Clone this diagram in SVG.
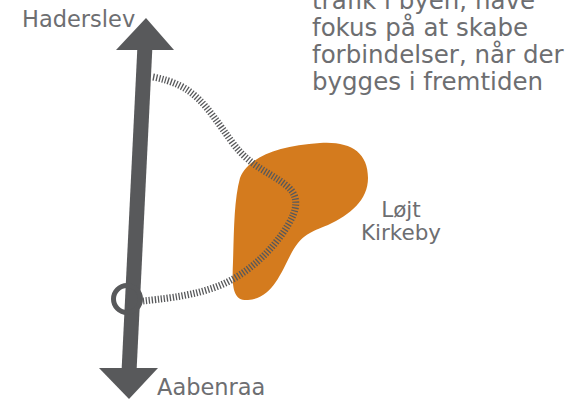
<svg xmlns="http://www.w3.org/2000/svg" width="578" height="399" viewBox="0 0 578 399">
<style>
.lbl{font-family:"DejaVu Sans",Verdana,sans-serif;fill:#6d6e71}
.road{fill:#58595b}
.rail{fill:none;stroke:#58595b;stroke-width:7;stroke-dasharray:1.3 1.7}
</style>
<rect width="578" height="399" fill="#ffffff"/>
<g id="area-lojt-kirkeby">
<path d="M240,178 C248,158 275,146 320,143 C350,141 368,152 368,178 C368,200 350,215 328,225 C310,232 302,235 292,252 C280,275 272,298 248,300 C232,301 232,285 233,262 C234,230 234,200 240,178 Z" fill="#d47b1e"/>
</g>
<g id="connectors">
<path class="rail" d="M153,77 C195,85 205,105 232,142 C250,167 270,172 287,186 C300,197 297,210 288,225 C270,255 240,280 210,289 C185,297 160,299 143,301"/>
<line x1="145" y1="45" x2="129" y2="372" stroke="#58595b" stroke-width="15"/>
<polygon class="road" points="146,18 174,50 116,50"/>
<polygon class="road" points="129,399 158,368 99,368"/>
<circle cx="127" cy="299" r="13.5" fill="none" stroke="#58595b" stroke-width="5"/>
</g>
<g id="label-haderslev"><text class="lbl" x="22" y="27" font-size="22.5">Haderslev</text></g>
<g id="label-aabenraa"><text class="lbl" x="157" y="395" font-size="22.5">Aabenraa</text></g>
<g id="label-lojt"><text class="lbl" x="401" y="216.5" font-size="21.5" text-anchor="middle">Løjt</text><text class="lbl" x="401" y="240" font-size="21.5" text-anchor="middle">Kirkeby</text></g>
<g id="note">
<text class="lbl" font-size="24.5"><tspan x="312" y="9">trafik i byen, have</tspan><tspan x="312" y="36">fokus på at skabe</tspan><tspan x="312" y="63">forbindelser, når der</tspan><tspan x="312" y="90">bygges i fremtiden</tspan></text>
</g>
</svg>
